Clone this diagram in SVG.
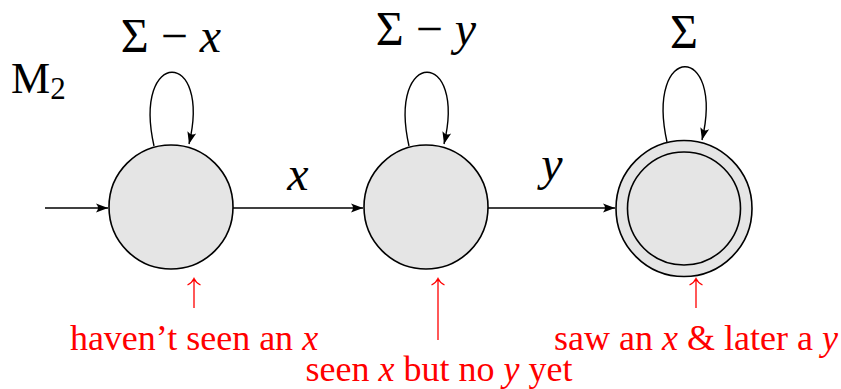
<svg xmlns="http://www.w3.org/2000/svg" width="841" height="389" viewBox="0 0 841 389">
<style>
.st{fill:#e5e5e5;stroke:#000;stroke-width:1.6}
.ed{fill:none;stroke:#000;stroke-width:1.4;marker-end:url(#ah)}
.lp{fill:none;stroke:#000;stroke-width:1.4;marker-end:url(#ah)}
.ra{fill:none;stroke:#ff0000;stroke-width:1.3}
.t{font-family:"Liberation Serif","Times New Roman",serif;fill:#000}
.i{font-style:italic}
.r{font-family:"Liberation Serif","Times New Roman",serif;fill:#ff0000;font-size:36px;text-anchor:middle}
.lab{font-size:48px;text-anchor:middle}
</style>
<defs>
<marker id="ah" markerUnits="userSpaceOnUse" viewBox="-14 -7 16 14" refX="0" refY="0" markerWidth="16" markerHeight="14" orient="auto">
<path d="M0,0 L-12,-4.5 Q-8,0 -12,4.5 Z" fill="#000"/>
</marker>
</defs>
<g id="title"><text class="t" x="11" y="93" font-size="44">M<tspan font-size="31" dy="6">2</tspan></text></g>
<g id="connectors">
<line class="ed" x1="45" y1="208" x2="108" y2="208"/>
<line class="ed" x1="233" y1="208" x2="363" y2="208"/>
<line class="ed" x1="488" y1="208" x2="615" y2="208"/>
<path class="lp" d="M154,146 C132,48 212,48 189,144"/>
<path class="lp" d="M409,146 C387,48 467,48 444,144"/>
<path class="lp" d="M667,142 C645,42 725,42 702,140"/>
<text class="t i lab" x="298" y="190">x</text>
<text class="t i lab" x="552" y="180">y</text>
<text class="t lab" x="171" y="52">Σ − <tspan class="i">x</tspan></text>
<text class="t lab" x="426" y="45">Σ − <tspan class="i">y</tspan></text>
<text class="t lab" x="684" y="48">Σ</text>
</g>
<g id="q0"><circle class="st" cx="171" cy="207" r="62"/></g>
<g id="q1"><circle class="st" cx="426" cy="207" r="62"/></g>
<g id="q2"><circle class="st" cx="684" cy="208.5" r="68"/><circle class="st" cx="684" cy="208.5" r="56.5"/></g>
<g id="notes">
<path class="ra" d="M194,308 V279 M187.5,285 Q192,283 194,278.5 Q196,283 200.5,285"/>
<path class="ra" d="M438,340 V279 M431.5,285 Q436,283 438,278.5 Q440,283 444.5,285"/>
<path class="ra" d="M696,308 V279 M689.5,285 Q694,283 696,278.5 Q698,283 702.5,285"/>
<text class="r" x="194" y="350">haven’t seen an <tspan font-style="italic">x</tspan></text>
<text class="r" x="439" y="381">seen <tspan font-style="italic">x</tspan> but no <tspan font-style="italic">y</tspan> yet</text>
<text class="r" x="696" y="350">saw an <tspan font-style="italic">x</tspan> &amp; later a <tspan font-style="italic">y</tspan></text>
</g>
</svg>
